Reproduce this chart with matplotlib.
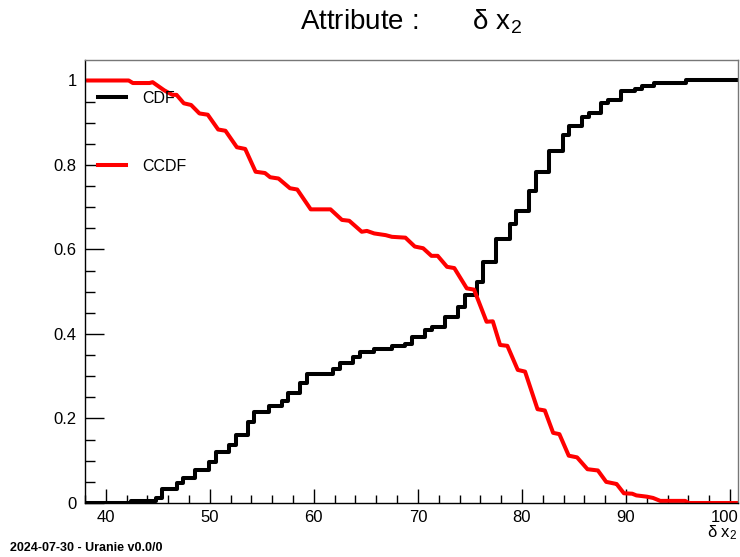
import numpy as np
import matplotlib
matplotlib.use("Agg")
import matplotlib.pyplot as plt
import matplotlib.transforms as mtransforms

plt.rcParams['font.family'] = ['Liberation Sans', 'DejaVu Sans']
plt.rcParams['mathtext.fontset'] = 'custom'
plt.rcParams['mathtext.rm'] = 'Liberation Sans'
plt.rcParams['mathtext.it'] = 'Liberation Sans:italic'

# CDF: step positions and level reached after each step
cdf_x = [38.08, 42.4, 44.8, 45.4, 46.8, 47.4, 48.6, 49.9, 50.55, 51.8, 52.5,
         53.7, 54.2, 55.7, 56.95, 57.5, 58.7, 59.35, 61.8, 62.55, 63.8, 64.4,
         65.75, 67.5, 68.8, 69.4, 70.7, 71.35, 72.6, 73.9, 74.55, 75.7, 76.25,
         77.5, 78.9, 79.45, 80.7, 81.35, 82.6, 83.9, 84.55, 85.8, 86.4, 87.6,
         88.3, 89.5, 90.9, 91.5, 92.7, 93.4, 95.8, 100.77]
cdf_y = [0.0, 0.005, 0.0125, 0.033, 0.047, 0.058, 0.078, 0.096, 0.12, 0.137,
         0.162, 0.192, 0.216, 0.23, 0.241, 0.26, 0.283, 0.305, 0.318, 0.331,
         0.345, 0.357, 0.364, 0.371, 0.376, 0.394, 0.41, 0.416, 0.441, 0.463,
         0.492, 0.524, 0.570, 0.625, 0.660, 0.691, 0.738, 0.783, 0.834, 0.871,
         0.892, 0.914, 0.924, 0.946, 0.955, 0.976, 0.981, 0.987, 0.993, 0.995,
         1.0, 1.0]

# CCDF: polyline vertices
ccdf_x = [38.3, 42.2, 42.6, 44.2, 44.5, 45.6, 46.4, 46.8, 47.5, 48.2, 49.0,
          49.8, 50.8, 51.5, 52.6, 53.4, 54.4, 55.3, 55.8, 56.6, 57.7, 58.4,
          59.7, 61.6, 62.7, 63.4, 64.6, 65.1, 65.8, 66.9, 67.5, 68.8, 69.7,
          70.5, 71.3, 71.9, 72.8, 73.5, 74.7, 75.4, 76.6, 77.2, 77.9, 78.6,
          79.6, 80.3, 81.5, 82.2, 83.0, 83.6, 84.5, 85.3, 86.3, 87.3, 88.1,
          88.9, 89.1, 89.8, 90.6, 91.0, 92.0, 92.6, 93.3, 95.7, 96.0, 100.7]
ccdf_y = [1.0, 1.0, 0.994, 0.994, 0.996, 0.977, 0.966, 0.966, 0.946, 0.942,
          0.922, 0.919, 0.884, 0.881, 0.842, 0.838, 0.784, 0.781, 0.771, 0.768,
          0.745, 0.742, 0.695, 0.695, 0.670, 0.668, 0.642, 0.644, 0.638, 0.634,
          0.630, 0.628, 0.607, 0.603, 0.585, 0.585, 0.559, 0.556, 0.508, 0.505,
          0.429, 0.430, 0.374, 0.372, 0.315, 0.311, 0.222, 0.219, 0.166, 0.163,
          0.112, 0.108, 0.080, 0.077, 0.050, 0.046, 0.045, 0.023, 0.022, 0.018,
          0.015, 0.012, 0.005, 0.005, 0.0, 0.0]

x_ticks = [40, 50, 60, 70, 80, 90, 100]
y_ticks = [0, 0.2, 0.4, 0.6, 0.8, 1]
y_ticklabels = ["0", "0.2", "0.4", "0.6", "0.8", "1"]

fig = plt.figure(figsize=(7.4, 5.57), dpi=100)
ax = fig.add_axes([85/740, 54/557, 653/740, 443/557])

ax.step(cdf_x, cdf_y, where='post', color='black', lw=2.9, label='CDF')
ax.plot(ccdf_x, ccdf_y, color='#ff0000', lw=2.9, label='CCDF')

ax.set_xlim(38.08, 100.77)
ax.set_ylim(0, 1.0485)
ax.set_xticks(x_ticks)
ax.set_xticks(np.arange(38, 101, 2), minor=True)
ax.set_yticks(y_ticks)
ax.set_yticklabels(y_ticklabels)
ax.set_yticks(np.arange(0, 1.05, 0.05), minor=True)

ax.tick_params(axis='both', which='both', direction='in', width=1,
               top=False, right=False, labelsize=12)
ax.tick_params(axis='y', which='major', length=13.7, pad=6)
ax.tick_params(axis='y', which='minor', length=7)
ax.tick_params(axis='x', which='major', length=10, pad=5)
ax.tick_params(axis='x', which='minor', length=5.5)

# keep the last x label inside the picture
last = ax.get_xticklabels()[-1]
last.set_transform(last.get_transform() +
                   mtransforms.ScaledTranslation(-5/100, 0, fig.dpi_scale_trans))

for s in ['top', 'right']:
    ax.spines[s].set_color('#777777')
for s in ax.spines.values():
    s.set_linewidth(1)

ax.legend(loc='upper left', bbox_to_anchor=(0.02, 0.93), frameon=False,
          fontsize=11.5, borderpad=0, borderaxespad=0, handlelength=1.75,
          handletextpad=1.0, labelspacing=3.3)

fig.text(411/740, 1 - 22/557, "Attribute :       δ x$_2$", fontsize=20,
         ha='center', va='center')
fig.text(737/740, 1 - 533/557, "δ x$_2$", fontsize=12, ha='right', va='center')
fig.text(10/740, 1 - 548/557, "2024-07-30 - Uranie v0.0/0", fontsize=9,
         fontweight='bold', ha='left', va='center')

fig.savefig("out.png", dpi=100)
